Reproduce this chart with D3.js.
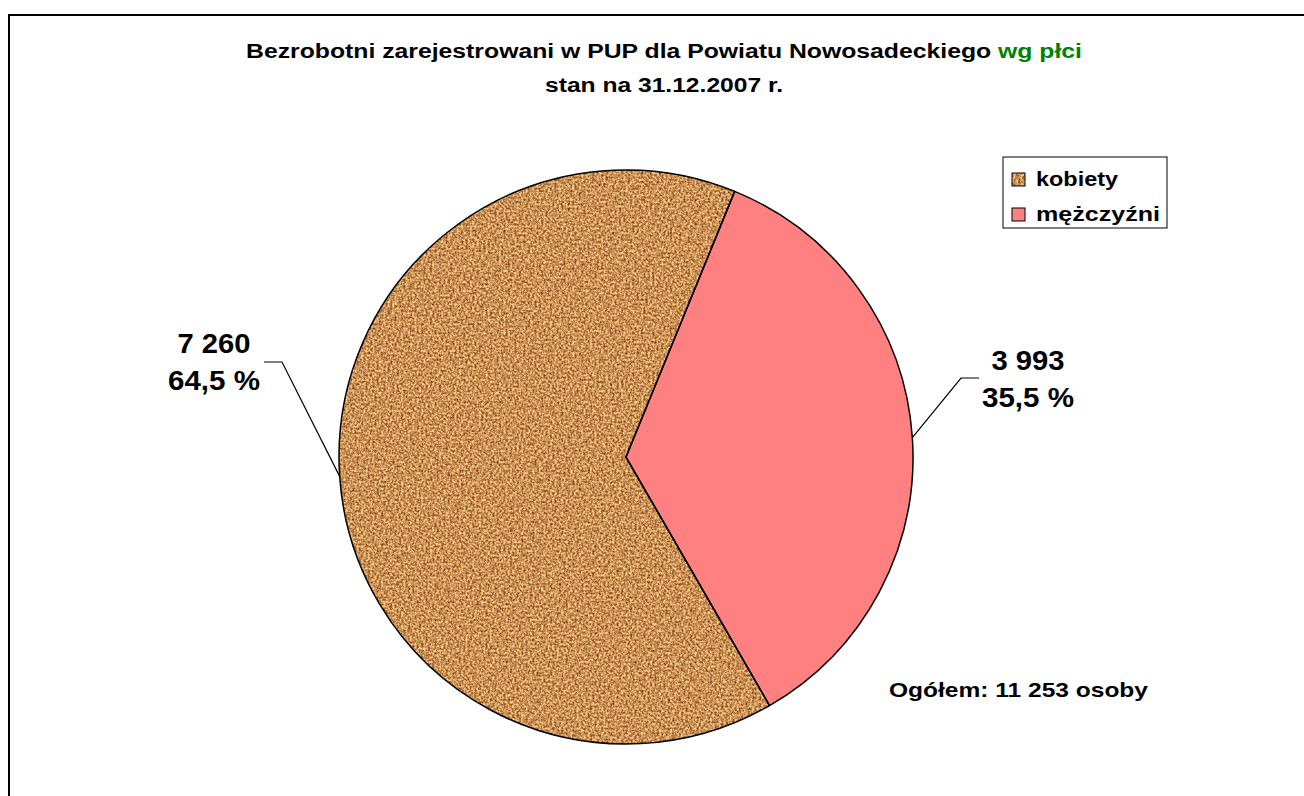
<html lang="pl">
  <head>
    <meta charset="utf-8">
    <title>Bezrobotni wg płci</title>
    <script src="https://d3js.org/d3.v7.min.js"></script>
    <style>
      body { margin: 0; background: #fff; }
      text { font-family: Arial, "Liberation Sans", sans-serif; font-weight: bold; }
    </style>
  </head>
  <body>
    <script type="text/javascript">
      var w = 1304;
      var h = 796;
      var categories = ["kobiety", "mężczyźni"];
      var values = [7260, 3993];
      var valueLabels = ["7 260", "3 993"];
      var percentLabels = ["64,5 %", "35,5 %"];
      var totalLabel = "Ogółem: 11 253 osoby";

      var cx = 626, cy = 457, r = 287;

      var svg = d3.select("body")
                  .append("svg")
                  .attr("width", w)
                  .attr("height", h);

      // stretch glyphs to the width they have in the original
      function fit(sel, target) {
        return sel.attr("textLength", target)
                  .attr("lengthAdjust", "spacingAndGlyphs");
      }

      var defs = svg.append("defs");
      // cork-like texture for kobiety
      var f = defs.append("filter")
                  .attr("id", "cork")
                  .attr("color-interpolation-filters", "sRGB")
                  .attr("x", 0).attr("y", 0).attr("width", 1).attr("height", 1);
      f.append("feTurbulence")
       .attr("type", "fractalNoise")
       .attr("baseFrequency", 0.45)
       .attr("numOctaves", 3)
       .attr("seed", 3)
       .attr("result", "noise");
      f.append("feColorMatrix")
       .attr("in", "noise")
       .attr("type", "matrix")
       .attr("values", "1.0 0 0 0 0.29  1.0 0 0 0 0.07  0.8 0 0 0 -0.06  0 0 0 0 1")
       .attr("result", "col");
      f.append("feComposite")
       .attr("in", "col")
       .attr("in2", "SourceGraphic")
       .attr("operator", "in");

      // frame
      svg.append("rect")
         .attr("x", 9).attr("y", 15)
         .attr("width", 1320).attr("height", 800)
         .attr("fill", "none")
         .attr("stroke", "#000")
         .attr("stroke-width", 2);

      // title
      var title = svg.append("text")
                     .attr("x", 664).attr("y", 58)
                     .attr("text-anchor", "middle")
                     .style("font-size", "20px");
      title.append("tspan").text("Bezrobotni zarejestrowani w PUP dla Powiatu Nowosadeckiego ");
      title.append("tspan").attr("fill", "#008000").text("wg płci");
      fit(title, 836);
      fit(svg.append("text")
         .attr("x", 664).attr("y", 92)
         .attr("text-anchor", "middle")
         .style("font-size", "20px")
         .text("stan na 31.12.2007 r."), 238);

      var pie = d3.pie()
                  .sort(null)
                  .startAngle(150 * Math.PI / 180)
                  .endAngle(510 * Math.PI / 180);
      var arcs = pie(values);
      var arc = d3.arc().innerRadius(0).outerRadius(r);

      var g = svg.append("g").attr("transform", `translate(${cx},${cy})`);
      // kobiety base + texture
      g.append("path")
       .attr("d", arc(arcs[0]))
       .attr("fill", "#c08850");
      g.append("path")
       .attr("d", arc(arcs[0]))
       .attr("fill", "#c08850")
       .attr("filter", "url(#cork)");
      g.append("path")
       .attr("d", arc(arcs[1]))
       .attr("fill", "#ff8080");
      g.selectAll("path.edge")
       .data(arcs)
       .enter()
       .append("path")
       .attr("class", "edge")
       .attr("d", arc)
       .attr("fill", "none")
       .attr("stroke", "#000")
       .attr("stroke-width", 1.5)
       .attr("stroke-linejoin", "round");

      // leader lines and labels
      var labelPos = [
        {tx: 214, ty: 353, elbow: [282, 362], end: [264, 362]},
        {tx: 1028, ty: 370, elbow: [961, 378], end: [979, 378]}
      ];
      arcs.forEach(function (d, i) {
        var a = (d.startAngle + d.endAngle) / 2;
        var px = cx + Math.sin(a) * r;
        var py = cy - Math.cos(a) * r;
        var lp = labelPos[i];
        svg.append("polyline")
           .attr("points", [[px, py], lp.elbow, lp.end].map(p => p.join(",")).join(" "))
           .attr("fill", "none")
           .attr("stroke", "#000")
           .attr("stroke-width", 1.2);
        fit(svg.append("text")
           .attr("x", lp.tx).attr("y", lp.ty)
           .attr("text-anchor", "middle")
           .style("font-size", "28px")
           .text(valueLabels[i]), 73);
        fit(svg.append("text")
           .attr("x", lp.tx).attr("y", lp.ty + 37)
           .attr("text-anchor", "middle")
           .style("font-size", "28px")
           .text(percentLabels[i]), 92);
      });

      // legend
      var lg = svg.append("g").attr("transform", "translate(1003,157)");
      lg.append("rect")
        .attr("width", 164).attr("height", 71)
        .attr("fill", "#fff")
        .attr("stroke", "#000")
        .attr("stroke-width", 1);
      var legendW = [82, 124];
      categories.forEach(function (c, i) {
        var yy = 23 + i * 35;
        if (i === 0) {
          lg.append("rect")
            .attr("x", 9).attr("y", yy - 7).attr("width", 13).attr("height", 13)
            .attr("fill", "#c08850");
          lg.append("rect")
            .attr("x", 9).attr("y", yy - 7).attr("width", 13).attr("height", 13)
            .attr("fill", "#c08850")
            .attr("filter", "url(#cork)");
        }
        lg.append("rect")
          .attr("x", 9).attr("y", yy - 7).attr("width", 13).attr("height", 13)
          .attr("fill", i === 0 ? "none" : "#ff8080")
          .attr("stroke", "#000")
          .attr("stroke-width", 1);
        fit(lg.append("text")
          .attr("x", 33).attr("y", yy + 6)
          .style("font-size", "21px")
          .text(c), legendW[i]);
      });

      fit(svg.append("text")
         .attr("x", 889).attr("y", 697)
         .style("font-size", "21px")
         .text(totalLabel), 259);
    </script>
  </body>
</html>
